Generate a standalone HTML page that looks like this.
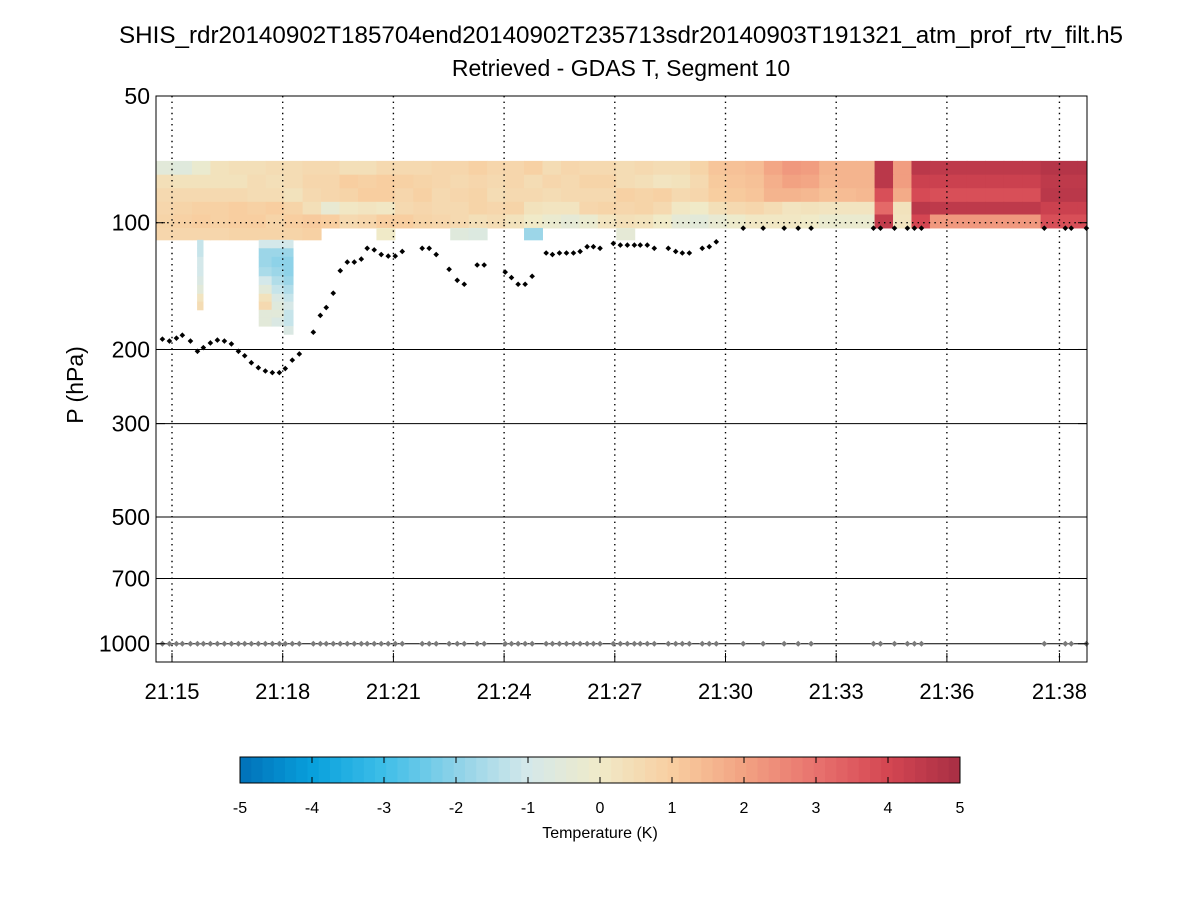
<!DOCTYPE html>
<html><head><meta charset="utf-8"><style>
body{margin:0;background:#fff;}
svg{display:block;font-family:"Liberation Sans",sans-serif;}
</style></head><body>
<svg id="chart" width="1200" height="900" viewBox="0 0 1200 900" xmlns="http://www.w3.org/2000/svg">
<rect width="1200" height="900" fill="#fff"/>
<text x="621" y="43" text-anchor="middle" font-size="24" textLength="1004" lengthAdjust="spacingAndGlyphs">SHIS_rdr20140902T185704end20140902T235713sdr20140903T191321_atm_prof_rtv_filt.h5</text>
<text x="621" y="76" text-anchor="middle" font-size="23">Retrieved - GDAS T, Segment 10</text>
<text transform="translate(83,385) rotate(-90)" text-anchor="middle" font-size="23">P (hPa)</text>
<g id="heat"></g>
<g id="grid"></g>
<g id="pts"></g>
<g id="axes"></g>
<g id="cbar"></g>
</svg>
<script>
// ---- data ----
const xTickMin = [0,3,6,9,12,15,18,21,24.05];
const xTickLabels = ["21:15","21:18","21:21","21:24","21:27","21:30","21:33","21:36","21:38"];
const yTicks = [50,100,200,300,500,700,1000];
const colStart = -0.46, colWidth = 0.5;
const rowEdges = [71.3,76.9,82.8,89.2,95.6,102.9,109.8];
const row1 = [-0.5,-0.6,-0.2,0.3,0.4,0.4,0.5,0.5,0.6,0.6,0.4,0.4,0.6,0.6,0.6,0.7,0.7,0.9,0.7,0.7,0.9,0.5,0.7,0.6,0.6,0.5,0.6,0.5,0.5,0.8,1.2,1.3,1.4,1.9,2.2,2.1,1.6,1.6,1.6,4.6,2.1,4.6,4.5,4.5,4.5,4.5,4.5,4.5,4.7,4.7,4.7];
const row2 = [0.4,0.3,0.3,0.3,0.3,0.5,0.4,0.5,0.7,0.7,1.0,0.9,1.0,0.9,0.8,0.7,0.6,0.7,0.6,0.7,0.5,0.7,0.6,0.8,0.8,0.5,0.4,0.2,0.3,0.6,1.1,1.2,1.3,1.7,2.0,1.9,1.5,1.6,1.6,4.6,2.1,4.2,4.2,4.2,4.2,4.2,4.2,4.2,4.5,4.5,4.5];
const row3 = [0.6,0.6,0.6,0.6,0.6,0.5,0.5,0.3,0.6,0.7,0.8,1.0,1.0,0.7,0.9,0.6,0.7,0.8,0.5,0.6,0.6,0.5,0.6,0.6,0.6,0.9,0.8,0.9,0.6,0.7,1.0,1.1,1.2,1.6,1.6,1.5,1.3,1.4,1.5,3.8,1.8,3.9,3.8,3.8,3.8,3.8,3.8,3.8,4.6,4.6,4.6];
const row4 = [0.7,0.8,0.9,0.9,1.0,0.9,1.0,0.8,0.4,-0.3,0.1,0.2,0.1,0.6,0.7,0.6,0.6,0.8,0.7,0.8,0.3,0.2,0.2,0.7,0.8,0.7,0.8,0.6,0.1,0.0,0.4,0.6,0.7,0.5,0.2,0.3,0.2,0.2,0.2,3.2,0.3,4.6,4.5,4.5,4.5,4.5,4.5,4.5,4.2,4.2,4.2];
const row5 = [0.8,0.9,1.0,0.9,1.0,1.0,0.8,1.0,1.1,1.0,0.6,0.7,1.0,1.0,0.8,0.7,0.6,0.4,0.5,0.3,0.0,-0.2,-0.4,-0.2,0.2,0.4,0.3,0.0,-0.4,-0.5,-0.3,-0.1,0.1,0.1,0.1,0.0,-0.2,-0.2,-0.2,4.4,0.2,4.0,2.2,2.2,2.2,2.2,2.2,2.2,3.8,3.8,3.8];
const row6 = [0.7,0.7,0.7,0.7,0.8,0.8,0.8,0.8,0.9,null,null,null,0.0,null,null,null,-0.6,-0.7,null,null,-1.8,null,null,null,null,-0.4,null,null,null,null,null,null,null,null,null,null,null,null,null,null,null,null,null,null,null,null,null,null,null,null,null];
const lowEdges = [109.8,115,120.5,127.5,134,140.5,147.5,154,161,168,176,184];
const stripStart = [0.68,2.35,2.7,3.03];
const stripEnd = [0.84,2.7,3.03,3.28];
const stripA = [-1.2,-1.2,-1.0,-1.0,-0.8,-0.5,0.2,0.5];
const stripB = [-1.0,-1.8,-1.8,-1.6,-1.0,-0.5,0.3,0.6,-0.5,-0.5];
const stripC = [-1.0,-1.8,-2.0,-1.8,-1.5,-1.2,-0.8,-0.6,-0.5,-0.8];
const stripD = [-1.0,-1.8,-2.0,-2.0,-1.8,-1.5,-1.2,-0.9,-1.2,-1.2,-0.8];
const ptTime = [-0.26,-0.07,0.12,0.28,0.50,0.69,0.85,1.04,1.23,1.42,1.61,1.80,1.97,2.15,2.34,2.53,2.72,2.91,3.07,3.26,3.45,3.83,4.02,4.18,4.37,4.56,4.75,4.94,5.13,5.29,5.48,5.67,5.86,6.05,6.24,6.78,6.97,7.16,7.51,7.73,7.92,8.27,8.46,9.03,9.20,9.38,9.57,9.76,10.14,10.31,10.50,10.69,10.88,11.06,11.25,11.42,11.60,11.96,12.15,12.34,12.53,12.69,12.88,13.07,13.45,13.65,13.83,14.02,14.37,14.56,14.75,15.48,16.02,16.59,16.97,17.32,19.01,19.20,19.58,19.93,20.12,20.31,23.64,24.21,24.37,24.78];
const ptPres = [189,191,188,185,191,202,198,193,190,191,194,202,207,215,221,225,227,227,222,212,205,182,166,159,147,130,124,124,122,115,116,119,120,120,117,115,115,119,129,137,140,126,126,131,135,140,140,134,118,119,118,118,118,117,114,114,115,112,113,113,113,113,113,115,115,117,118,118,115,114,111,103,103,103,103,103,103,103,103,103,103,103,103,103,103,103];
const sfcPres = 1000;

// ---- scales ----
const L=156,R=1087,T=96,B=662;
const x = t => 172 + 36.9*t;
const y = p => 96 + 421*Math.log10(p/50);
const stops=[[-5,[0,112,184]],[-4,[8,160,220]],[-3,[62,190,232]],[-2,[142,210,232]],[-1,[212,232,234]],[0,[240,234,200]],[1,[248,206,160]],[2,[242,162,130]],[3,[232,114,110]],[4,[212,70,82]],[5,[168,46,68]]];
function col(v){v=Math.max(-5,Math.min(5,v));for(let i=0;i<stops.length-1;i++){const a=stops[i],b=stops[i+1];if(v<=b[0]){const f=(v-a[0])/(b[0]-a[0]);return 'rgb('+a[1].map((c,k)=>Math.round(c+(b[1][k]-c)*f)).join(',')+')';}}return 'rgb(168,46,68)';}
const NS='http://www.w3.org/2000/svg';
function mk(tag,attrs,parent){const e=document.createElementNS(NS,tag);for(const k in attrs)e.setAttribute(k,attrs[k]);parent.appendChild(e);return e;}
const heat=document.getElementById('heat'),grid=document.getElementById('grid'),pts=document.getElementById('pts'),axes=document.getElementById('axes'),cbar=document.getElementById('cbar');

const rows=[row1,row2,row3,row4,row5,row6];
rows.forEach((r,ri)=>{r.forEach((v,ci)=>{if(v===null)return;
  const t0=colStart+ci*colWidth;let x0=Math.max(L,x(t0)),x1=Math.min(R,x(t0+colWidth));if(x1<=x0)return;
  const y0=y(rowEdges[ri]),y1=y(rowEdges[ri+1]);
  const e=mk('rect',{x:x0,y:y0,width:x1-x0+0.5,height:y1-y0+0.5,fill:col(v)},heat);
  
  
});});
[stripA,stripB,stripC,stripD].forEach((s,si)=>{s.forEach((v,li)=>{
  const x0=x(stripStart[si]),x1=x(stripEnd[si]);const y0=y(lowEdges[li]),y1=y(lowEdges[li+1]);
  const e=mk('rect',{x:x0,y:y0,width:x1-x0+0.5,height:y1-y0+0.5,fill:col(v)},heat);
  
  
});});

xTickMin.forEach(t=>{const e=mk('line',{x1:x(t),x2:x(t),y1:T,y2:B,stroke:'#000','stroke-width':1.4,'stroke-dasharray':'1.4 4.2'},grid);
  
  });
yTicks.forEach(p=>{if(p===50)return;const d=p===100?{'stroke-dasharray':'1.4 4.2','stroke-width':1.4}:{'stroke-width':1};
  const e=mk('line',Object.assign({x1:L,x2:R,y1:y(p),y2:y(p),stroke:'#000'},d),grid);
  
  });

function diamond(cx,cy,r){return `M${cx-r},${cy}L${cx},${cy-r}L${cx+r},${cy}L${cx},${cy+r}Z`;}
ptTime.forEach((t,i)=>{
  const g=mk('path',{d:diamond(x(t),y(sfcPres),3),fill:'#7a7a7a'},pts);
  
  
  const e=mk('path',{d:diamond(x(t),y(ptPres[i]),2.8),fill:'#000'},pts);
  
  
});

const fr=mk('rect',{x:L,y:T,width:R-L,height:B-T,fill:'none',stroke:'#000','stroke-width':1},axes);


xTickMin.forEach((t,i)=>{
  mk('line',{x1:x(t),x2:x(t),y1:B,y2:B-9,stroke:'#000'},axes);
  const e=mk('text',{x:x(t),y:699,'text-anchor':'middle','font-size':22},axes);e.textContent=xTickLabels[i];
  
  
});
yTicks.forEach(p=>{
  mk('line',{x1:L,x2:L+9,y1:y(p),y2:y(p),stroke:'#000'},axes);
  mk('line',{x1:R,x2:R-9,y1:y(p),y2:y(p),stroke:'#000'},axes);
  const e=mk('text',{x:150,y:y(p)+8,'text-anchor':'end','font-size':23},axes);e.textContent=p;
  
  
});

const cbL=240,cbR=960,cbT=757,cbB=783,n=64;
for(let i=0;i<n;i++){const v=-5+10*(i+0.5)/n;const w=(cbR-cbL)/n;
  const e=mk('rect',{x:cbL+i*w,y:cbT,width:w+0.5,height:cbB-cbT,fill:col(v)},cbar);
  
  }
mk('rect',{x:cbL,y:cbT,width:cbR-cbL,height:cbB-cbT,fill:'none',stroke:'#000'},cbar);
for(let v=-5;v<=5;v++){const xx=cbL+(v+5)*(cbR-cbL)/10;
  mk('line',{x1:xx,x2:xx,y1:cbT,y2:cbT+6,stroke:'#000'},cbar);
  mk('line',{x1:xx,x2:xx,y1:cbB,y2:cbB-6,stroke:'#000'},cbar);
  const e=mk('text',{x:xx,y:813,'text-anchor':'middle','font-size':16},cbar);e.textContent=v;
  
  }
const ct=mk('text',{x:600,y:838,'text-anchor':'middle','font-size':16},cbar);ct.textContent='Temperature (K)';


</script>
</body></html>
